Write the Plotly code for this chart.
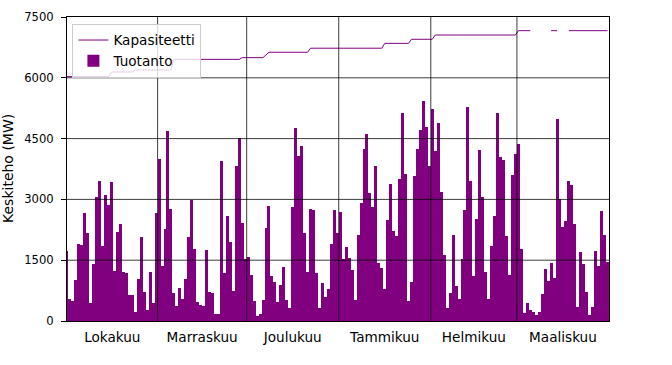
import plotly.graph_objects as go

# ---- data ----
month_names = ["Lokakuu", "Marraskuu", "Joulukuu", "Tammikuu", "Helmikuu", "Maaliskuu"]
month_days = [31, 30, 31, 31, 29, 31]
y_ticks = [0, 1500, 3000, 4500, 6000, 7500]
y_title = "Keskiteho (MW)"

prod_oct = [1727, 535, 500, 1010, 1900, 1875, 2657, 2163, 452, 1400, 3050, 3455, 1850, 3109, 2862, 3420,
            1234, 2196, 2393, 1209, 1193, 640, 640, 230, 1028, 2080, 724, 271, 1217, 452, 2657]
prod_nov = [4000, 1365, 2262, 4690, 2764, 700, 370, 806, 535, 1028, 2064, 2986, 1768, 477, 395, 370,
            1752, 724, 700, 165, 165, 3948, 1193, 2590, 1941, 748, 3825, 4507, 2426, 1522]
prod_dec = [1571, 1135, 500, 123, 165, 518, 2287, 2838, 1119, 970, 477, 888, 1324, 518, 312, 2821,
            4754, 4080, 4318, 2163, 1201, 2764, 2739, 1176, 312, 929, 584, 781, 1892, 2739, 2163]
prod_jan = [2681, 1530, 1834, 1546, 1258, 518, 2122, 2903, 4236, 4606, 3150, 2821, 3825, 1423, 1300, 790,
            2492, 3380, 2221, 2106, 3504, 5141, 3619, 493, 954, 3578, 4236, 4713, 5429, 4795, 3825]
prod_feb = [5231, 4195, 4877, 3191, 1628, 312, 700, 2122, 864, 535, 1522, 2739, 5289, 3463, 1110, 2508,
            4219, 3051, 1217, 535, 1850, 2590, 5124, 4055, 3973, 2097, 1135, 3603, 4121]
prod_mar = [4359, 1768, 205, 436, 271, 230, 148, 230, 666, 1283, 995, 1423, 1053, 4976, 3002, 2311,
            2467, 3463, 3356, 2393, 354, 1694, 1406, 724, 148, 337, 1727, 1365, 2714, 2122, 1448]

N = None
cap_oct = [6030, 6030, 6030, 6030, 6030, 6030, 6030, 6030, 6030, 6030, 6030, 6030, 6030, 6030, 6030,
           6143, 6143, 6143, 6143, 6143, 6143, 6143, 6143,
           6193, 6193, 6193, 6193, 6193, 6193, 6193, 6193]
cap_nov = [6193, 6193, 6193, 6193, 6193,
           6455, 6455, 6455, 6455, 6455, 6455, 6455, 6455, 6455, 6455, 6455, 6455, 6455, 6455, 6455, 6455,
           6455, 6455, 6455, 6455, 6455, 6455, 6455,
           6497, 6497]
cap_dec = [6497, 6497, 6497, 6497, 6497, 6497, 6565,
           6630, 6630, 6630, 6630, 6630, 6630, 6630, 6630, 6630, 6630, 6630, 6630, 6630, 6630,
           6730, 6730, 6730, 6730, 6730, 6730, 6730, 6730, 6730, 6730]
cap_jan = [6730, 6730, 6730, 6730, 6730, 6730, 6730, 6730, 6730, 6730, 6730, 6730, 6730, 6730, 6730,
           6850, 6850, 6850, 6850, 6850, 6850, 6850, 6850, 6850,
           6950, 6950, 6950, 6950, 6950, 6950, 6950]
cap_feb = [6950,
           7056, 7056, 7056, 7056, 7056, 7056, 7056, 7056, 7056, 7056, 7056, 7056, 7056, 7056,
           7056, 7056, 7056, 7056, 7056, 7056, 7056, 7056, 7056, 7056, 7056, 7056, 7056, 7056]
cap_mar = [7163, 7163, 7163, 7163, 7163, N, N, N, N, N, N, 7163, 7163, 7163, N, N, N,
           7163, 7163, 7163, 7163, 7163, 7163, 7163, 7163, 7163, 7163, 7163, 7163, 7163, 7163]

production = prod_oct + prod_nov + prod_dec + prod_jan + prod_feb + prod_mar
capacity = cap_oct + cap_nov + cap_dec + cap_jan + cap_feb + cap_mar

# day index positions (bar centres)
x = [i + 0.5 for i in range(len(production))]

# month boundaries and label positions
bounds = [0]
for d in month_days:
    bounds.append(bounds[-1] + d)
x_lo = 0.5
x_hi = bounds[-1]
label_pos = [(max(bounds[k], x_lo) + bounds[k + 1]) / 2 for k in range(len(month_days))]

FONT = "DejaVu Sans"
PURPLE = "#800080"

fig = go.Figure()
fig.add_trace(go.Scatter(x=x, y=capacity, mode="lines", name="Kapasiteetti",
                         line=dict(color=PURPLE, width=1), connectgaps=False))
fig.add_trace(go.Bar(x=x, y=production, width=1, name="Tuotanto",
                     marker=dict(color=PURPLE, line=dict(width=0))))

shapes = []
for v in y_ticks[1:-1]:
    shapes.append(dict(type="line", xref="paper", yref="y", x0=0, x1=1, y0=v, y1=v,
                       line=dict(color="rgba(0,0,0,0.85)", width=0.9), layer="above"))
for b in bounds[1:-1]:
    shapes.append(dict(type="line", xref="x", yref="paper", x0=b, x1=b, y0=0, y1=1,
                       line=dict(color="rgba(0,0,0,0.85)", width=0.9), layer="above"))

fig.update_layout(
    width=672, height=365,
    margin=dict(l=67, r=63, t=17, b=44, autoexpand=False),
    paper_bgcolor="white", plot_bgcolor="white",
    font=dict(family=FONT, color="black"),
    bargap=0,
    shapes=shapes,
    showlegend=True,
    legend=dict(x=0.01, y=0.978, xanchor="left", yanchor="top",
                bgcolor="rgba(255,255,255,0.8)", bordercolor="#cccccc", borderwidth=1,
                font=dict(family=FONT, size=13.6, color="black"),
                tracegroupgap=0, traceorder="normal", itemwidth=30),
    xaxis=dict(range=[x_lo, x_hi], tickmode="array", tickvals=label_pos, ticktext=month_names,
               showgrid=False, zeroline=False, ticks="", ticklabelstandoff=4, automargin=False,
               showline=True, mirror=True, linecolor="black", linewidth=1,
               tickfont=dict(family=FONT, size=13.6, color="black")),
    yaxis=dict(range=[0, 7500], tickmode="array", tickvals=y_ticks, automargin=False,
               showgrid=False, zeroline=False, ticks="outside", ticklen=5, tickcolor="black",
               ticklabelstandoff=5,
               showline=True, mirror=True, linecolor="black", linewidth=1,
               tickfont=dict(family=FONT, size=11.6, color="black")),
    annotations=[dict(text=y_title, xref="paper", yref="paper", x=0, y=0.5,
                      xanchor="center", yanchor="middle", xshift=-59, textangle=-90,
                      showarrow=False, font=dict(family=FONT, size=14, color="black"))],
)

# remove the browser's default page margin so the figure fills the window exactly
fig.write_html("out.html", config={"displayModeBar": False},
               post_script="document.body.style.margin='0';")
